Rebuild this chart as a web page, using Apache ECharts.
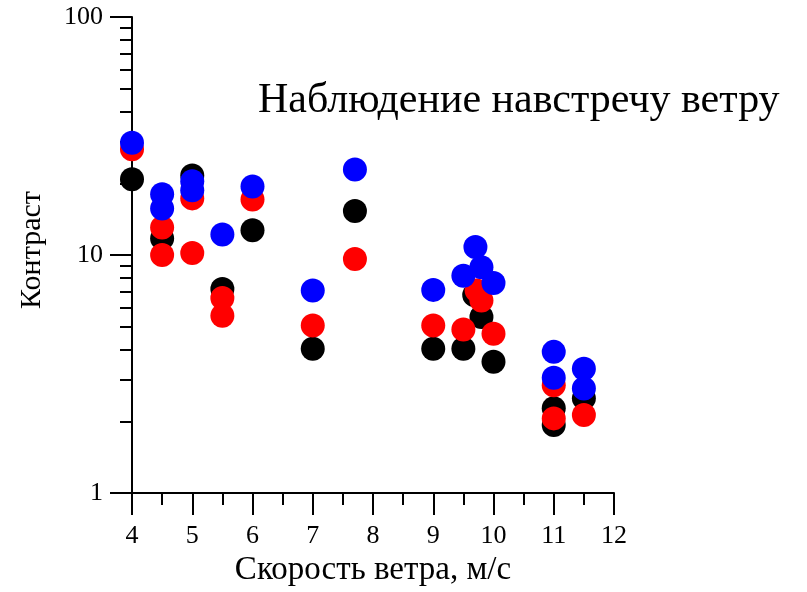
<!DOCTYPE html>
<html><head><meta charset="utf-8">
<script src="https://cdn.jsdelivr.net/npm/echarts@6/dist/echarts.min.js"></script>
<style>html,body{margin:0;padding:0;background:#fff}#c{width:807px;height:592px}</style>
</head><body><div id="c"></div>
<script>
// Wind speed (m/s) and contrast values per series
const blackX = [4, 4.5, 5, 5.5, 6, 7, 7.7, 9, 9.5, 9.68, 9.8, 10, 11, 11, 11.5];
const blackY = [20.8, 11.75, 21.6, 7.2, 12.7, 4.04, 15.3, 4.04, 4.04, 6.8, 5.49, 3.56, 2.27, 1.93, 2.5];
const redX = [4, 4.5, 4.5, 5, 5, 5.5, 5.5, 6, 7, 7.7, 9, 9.5, 9.72, 9.8, 10, 11, 11, 11.5];
const redY = [27.8, 13.06, 10.0, 17.3, 10.2, 6.6, 5.56, 17.1, 5.06, 9.62, 5.06, 4.87, 7.09, 6.44, 4.67, 2.84, 2.06, 2.13];
const blueX = [4, 4.5, 4.5, 5, 5, 5.5, 6, 7, 7.7, 9, 9.5, 9.7, 9.8, 10, 11, 11, 11.5, 11.5];
const blueY = [29.6, 18.0, 15.7, 20.4, 18.7, 12.2, 19.4, 7.09, 22.9, 7.14, 8.19, 10.8, 8.88, 7.63, 3.92, 3.05, 3.33, 2.75];
const xTicks = [4, 5, 6, 7, 8, 9, 10, 11, 12];
const yMajor = [1, 10, 100];
const yMinor = [2, 3, 4, 5, 6, 7, 8, 9, 20, 30, 40, 50, 60, 70, 80, 90];
const titleText = 'Наблюдение навстречу ветру';
const xName = 'Скорость ветра, м/с';
const yName = 'Контраст';

const font = '"Liberation Serif", "Times New Roman", serif';
const zip = (xs, ys) => xs.map((x, i) => [x, ys[i]]);
const chart = echarts.init(document.getElementById('c'), null, {renderer: 'canvas'});
const lineStyle = {color: '#000', width: 2};
chart.setOption({
  animation: false,
  backgroundColor: '#fff',
  title: {
    text: titleText, left: 253, top: 75,
    textStyle: {fontFamily: font, fontSize: 42, fontWeight: 'normal', color: '#000'}
  },
  graphic: [{
    type: 'text', x: 32, y: 250, rotation: Math.PI / 2,
    style: {text: yName, fontFamily: font, fontSize: 30, fill: '#000', align: 'center', verticalAlign: 'middle'}
  }],
  grid: {left: 132, right: 193, top: 17, bottom: 97, containLabel: false},
  xAxis: {
    type: 'value', min: 4, max: 12, interval: 1,
    name: xName, nameLocation: 'middle', nameGap: 59,
    nameTextStyle: {fontFamily: font, fontSize: 33, color: '#000'},
    axisLine: {show: true, lineStyle: lineStyle},
    axisTick: {show: true, length: 22, lineStyle: lineStyle, customValues: xTicks},
    minorTick: {show: true, splitNumber: 2, length: 12, lineStyle: lineStyle},
    axisLabel: {fontFamily: font, fontSize: 26, color: '#000', margin: 30, customValues: xTicks},
    splitLine: {show: false}
  },
  yAxis: [{
    type: 'log', logBase: 10, min: 1, max: 100,
    axisLine: {show: true, lineStyle: lineStyle},
    axisTick: {show: true, length: 22, lineStyle: lineStyle, customValues: yMajor},
    axisLabel: {fontFamily: font, fontSize: 26, color: '#000', margin: 29, customValues: yMajor},
    splitLine: {show: false}
  }, {
    type: 'log', logBase: 10, min: 1, max: 100, position: 'left',
    axisLine: {show: false},
    axisTick: {show: true, length: 12, lineStyle: lineStyle, customValues: yMinor},
    axisLabel: {show: false},
    splitLine: {show: false}
  }],
  series: [
    {type: 'scatter', data: zip(blackX, blackY), symbolSize: 24, itemStyle: {color: '#000', opacity: 1}},
    {type: 'scatter', data: zip(redX, redY), symbolSize: 24, itemStyle: {color: '#ff0000', opacity: 1}},
    {type: 'scatter', data: zip(blueX, blueY), symbolSize: 24, itemStyle: {color: '#0000ff', opacity: 1}}
  ]
});
</script>
</body></html>
